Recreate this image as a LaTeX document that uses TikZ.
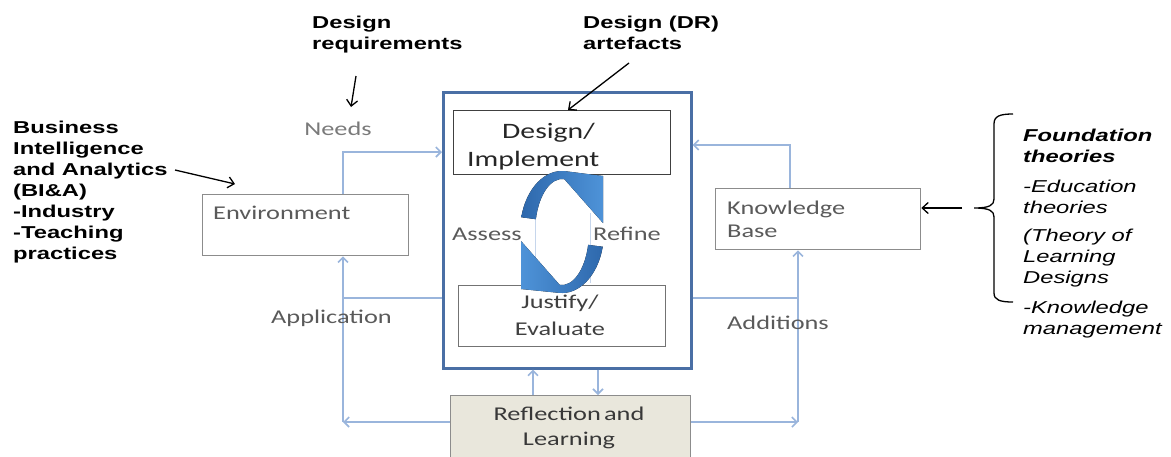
\documentclass[tikz,border=0pt]{standalone}
\usepackage{fontspec}
\usetikzlibrary{arrows.meta}
\newfontfamily\calfont[FakeStretch=1.35]{Carlito}
\newfontfamily\arifont[FakeStretch=1.38]{Liberation Sans}
\definecolor{flowblue}{HTML}{9AB5DC}
\definecolor{frameblue}{HTML}{4A6FA5}
\definecolor{boxgray}{HTML}{8C8C8C}
\definecolor{innergray}{HTML}{5A5A5A}
\definecolor{labelgray}{HTML}{5A5A5A}
\definecolor{needsgray}{HTML}{7A7A7A}
\definecolor{paleblock}{HTML}{E9E7DC}
\definecolor{cycledark}{HTML}{2E68AC}
\definecolor{cyclelight}{HTML}{4E93D8}
\definecolor{cyclefaint}{HTML}{C6D6EC}
\newcommand\textlines[2][l]{\begin{tabular}[t]{@{}#1@{}}#2\end{tabular}}

\begin{document}
\begin{tikzpicture}[x=1pt,y=-1pt,
  calib/.style={font=\calfont\fontsize{19.5}{23}\selectfont, text=labelgray, inner sep=0pt},
  boldnote/.style={font=\arifont\bfseries\fontsize{17.2}{21.1}\selectfont, inner sep=0pt},
  itnote/.style={font=\arifont\itshape\fontsize{17.2}{21}\selectfont, inner sep=0pt},
  framebox/.style={draw=frameblue, line width=2.6pt, inner sep=0pt, anchor=north west},
  outerbox/.style={draw=boxgray, line width=1.3pt, fill=white, inner sep=0pt, anchor=north west},
  innerbox/.style={draw=innergray, line width=1.3pt, fill=white, inner sep=0pt, anchor=north west},
  flow/.style={draw=flowblue, line width=1.6pt},
  flowarrow/.style={flow, -{Straight Barb[length=5pt,width=10pt]}},
  note/.style={draw=black, line width=1.3pt, -{Straight Barb[length=6pt,width=11pt]}}]
\useasboundingbox (0,0) rectangle (1171,456);

% boxes
\node[framebox, minimum width=248pt, minimum height=276pt] (outer) at (442,91) {};
\node[outerbox, minimum width=206pt, minimum height=61pt] (env) at (202,194) {};
\node[outerbox, minimum width=205pt, minimum height=61pt] (kb) at (715,188) {};
\node[innerbox, draw=black!75, minimum width=217pt, minimum height=64pt] (design) at (453,110) {};
\node[innerbox, draw=black!55, minimum width=207pt, minimum height=61pt] (justify) at (458,285) {};
\node[outerbox, fill=paleblock, minimum width=240pt, minimum height=75pt] (reflect) at (450,395) {};

% corner points of the feedback loops
\coordinate (envtop) at (343,0 |- env.north);
\coordinate (envbot) at (343,0 |- env.south);
\coordinate (leftcorner) at (343,422);
\coordinate (kbtop) at (790,0 |- kb.north);
\coordinate (kbbot) at (798,0 |- kb.south);
\coordinate (rightcorner) at (798,422);

% feedback loops
\draw[flowarrow] (envtop) |- (outer.west |- 0,152);
\draw[flow] (outer.west |- 0,298) -- (343,298);
\draw[flowarrow] (reflect.west |- leftcorner) -- (leftcorner);
\draw[flowarrow] (leftcorner) -- (envbot);
\draw[flowarrow] (kbtop) |- (outer.east |- 0,145);
\draw[flow] (outer.east |- 0,298) -- (798,298);
\draw[flowarrow] (reflect.east |- rightcorner) -- (rightcorner);
\draw[flowarrow] (rightcorner) -- (kbbot);
\draw[flowarrow] (533,0 |- reflect.north) -- (533,0 |- outer.south);
\draw[flowarrow] (598,0 |- outer.south) -- (598,0 |- reflect.north);

% texts inside the boxes
\node[calib, anchor=base west] (envtext) at (213,219) {Environment};
\node[calib, anchor=base west, font=\calfont\fontsize{19.5}{23}\selectfont] (kbtext) at (727,214) {\textlines{Knowledge\\Base}};
\node[calib, anchor=base west, text=black!85, font=\calfont\fontsize{22}{28}\selectfont] (designtext) at (467,138) {\textlines{\hspace{35pt}Design/\\Implement}};
\node[calib, anchor=base, text=black!75, font=\calfont\fontsize{19.5}{27}\selectfont] (justifytext) at (560,308) {\textlines[c]{Justify/\\Evaluate}};
\node[calib, anchor=base, text=black!78, font=\calfont\fontsize{19.5}{25}\selectfont] (reflecttext) at (569,420) {\textlines[c]{Reflection\,and\\Learning}};

% flow labels
\node[calib, anchor=base, text=needsgray] (needs) at (338,135) {Needs};
\node[calib, anchor=base west] (application) at (271,323) {Application};
\node[calib, anchor=base west] (additions) at (727,329) {Additions};
\node[calib, anchor=base west] (assess) at (452,240) {Assess};
\node[calib, anchor=base west] (refine) at (593,240) {Refine};

% assess / refine cycle
\draw[cyclefaint, line width=0.8pt] (535,213) -- (535,283) (590,213) -- (590,283);
\fill[left color=cycledark, right color=cyclelight]
  (562,232) ++(194:42 and 61) arc[start angle=194, end angle=275, x radius=42, y radius=61]
  -- (603,176) -- (603,223)
  -- (564.4,179.2) arc[start angle=275, end angle=194, x radius=27, y radius=53] -- cycle;
\fill[left color=cyclelight, right color=cycledark]
  (562,232) ++(14:42 and 61) arc[start angle=14, end angle=95, x radius=42, y radius=61]
  -- (521,289) -- (521,241)
  -- (559.6,284.8) arc[start angle=95, end angle=14, x radius=27, y radius=53] -- cycle;

% annotations
\node[boldnote, anchor=base west] (requirements) at (312,28) {\textlines{Design\\requirements}};
\node[boldnote, anchor=base west] (artefacts) at (583,28) {\textlines{Design (DR)\\artefacts}};
\node[boldnote, anchor=base west] (bia) at (13,133) {\textlines{Business\\Intelligence\\and Analytics\\(BI\&A)\\-Industry\\-Teaching\\practices}};
\node[itnote, anchor=base west] (foundation) at (1023,141) {\textlines{\bfseries Foundation\\\bfseries theories\\[9pt]-Education\\theories\\[7pt](Theory of\\Learning\\Designs\\[9pt]-Knowledge\\management}};

\coordinate (reqtail) at (356,76);
\coordinate (reqtip) at (351,107);
\draw[note] (reqtail) -- (reqtip);
\coordinate (arttail) at (629,63);
\draw[note] (arttail) -- (568,0 |- design.north);
\coordinate (biatail) at (175,170);
\coordinate (biatip) at (235,184);
\draw[note] (biatail) -- (biatip);

% brace gathering the foundation theories
\coordinate (bracetip) at (974,208);
\draw[black, line width=1.3pt]
  (1013,114) .. controls (1000,114) and (994,116) .. (994,124) -- (994,199)
  .. controls (994,205) and (990,208) .. (bracetip)
  .. controls (990,208) and (994,211) .. (994,217) -- (994,293)
  .. controls (994,300) and (1000,302) .. (1013,302);
\coordinate (kbarrowtail) at (962,208);
\draw[note] (kbarrowtail) -- (kb.east |- kbarrowtail);
\end{tikzpicture}
\end{document}
